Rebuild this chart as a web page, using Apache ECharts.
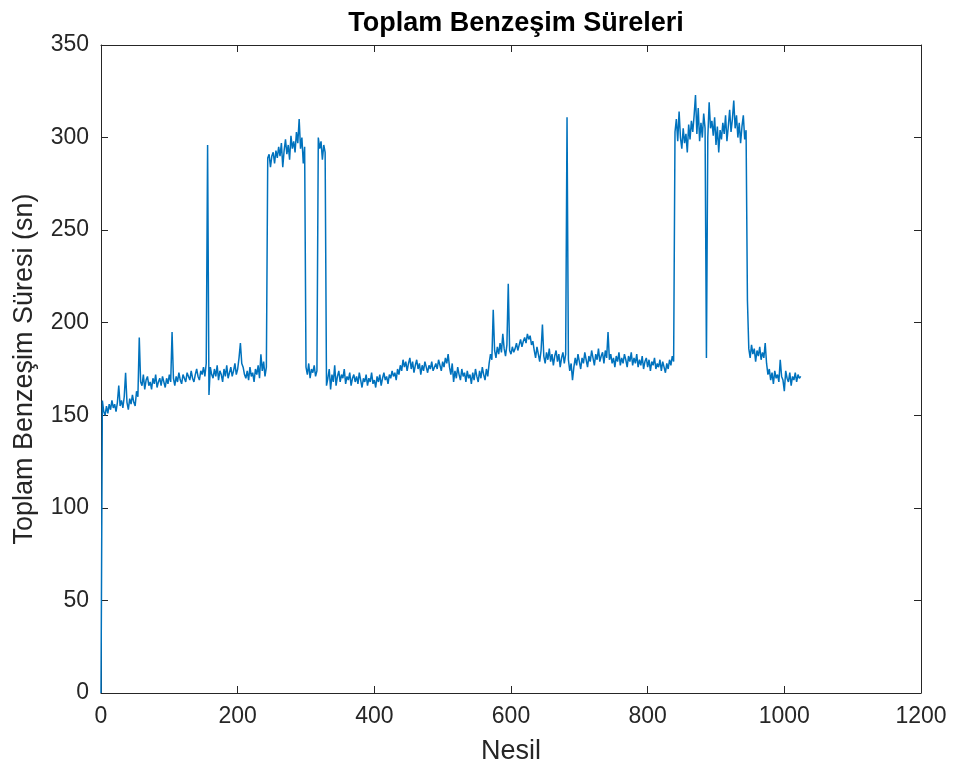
<!DOCTYPE html>
<html>
<head>
<meta charset="utf-8">
<script src="https://cdn.jsdelivr.net/npm/echarts@6/dist/echarts.min.js"></script>
<style>html,body{margin:0;padding:0;background:#fff;}#c{width:957px;height:775px;}</style>
</head>
<body>
<div id="c"></div>
<script>
// Title and axis texts
const chartTitle = 'Toplam Benzeşim Süreleri';
const xName = 'Nesil';
const yName = 'Toplam Benzeşim Süresi (sn)';
// x ticks 0..1200 step 200, y ticks 0..350 step 50
const xTicks = [0, 200, 400, 600, 800, 1000, 1200];
const yTicks = [0, 50, 100, 150, 200, 250, 300, 350];
// generation step between consecutive readings
const nesilAdim = 2;
// total simulation time per generation, rows of 10 = 20 generations
const sure = [
  0,158,152,150,155,151,156,153,158,154,
  156,152,157,166,155,158,154,160,173,157,
  153,159,156,161,157,155,163,160,192,168,
  166,172,164,169,171,166,168,164,170,167,
  172,165,168,170,166,171,168,165,170,167,
  172,168,195,170,166,171,168,173,169,167,
  172,170,168,173,171,169,174,170,168,172,
  175,171,169,174,172,176,171,178,296,161,
  176,172,170,175,171,177,169,174,172,168,
  175,171,177,170,173,176,171,174,178,172,
  175,181,189,178,176,172,170,174,169,176,
  171,173,168,175,172,177,170,183,174,179,
  171,176,289,291,284,290,292,286,293,289,
  295,290,297,284,293,299,291,296,288,301,
  294,298,292,303,297,310,294,300,286,295,
  176,172,178,170,175,173,177,171,174,300,
  294,298,288,296,292,166,170,175,164,172,
  168,177,166,171,174,168,172,170,175,167,
  171,169,173,166,170,172,168,171,167,173,
  169,165,170,168,172,166,170,168,173,167,
  169,165,171,168,172,166,170,173,169,171,
  167,172,170,174,171,173,169,175,172,177,
  174,180,176,179,174,178,181,175,179,173,
  177,180,175,178,172,177,174,179,176,173,
  177,175,179,174,176,178,175,180,177,174,
  179,176,181,178,183,176,172,178,168,174,
  170,176,172,169,175,171,173,168,174,170,
  172,167,173,169,175,171,168,174,170,176,
  172,169,175,171,178,183,180,207,185,181,
  187,183,189,184,194,186,182,188,221,185,
  183,187,184,186,189,185,188,191,187,190,
  192,189,194,191,193,188,190,185,181,187,
  183,179,185,199,182,178,184,180,186,179,
  183,177,182,185,179,183,176,181,184,178,
  183,311,180,174,178,169,176,181,177,183,
  179,175,181,178,184,180,176,182,179,185,
  181,177,183,180,186,179,182,184,178,185,
  181,195,180,183,178,181,176,182,179,184,
  177,181,178,183,180,176,182,179,184,177,
  181,178,183,176,180,177,182,175,179,181,
  176,180,174,179,177,181,175,178,176,180,
  174,179,176,173,178,175,180,177,182,179,
  303,310,298,314,300,294,305,297,302,292,
  307,299,309,303,312,323,302,316,298,308,
  300,313,305,181,300,319,305,309,301,311,
  296,306,292,304,299,308,302,312,298,306,
  315,303,310,320,305,312,300,308,297,306,
  312,299,304,212,186,181,188,183,186,179,
  185,182,187,180,184,181,189,178,172,175,
  169,173,167,174,170,172,168,180,171,169,
  163,174,170,168,173,166,171,169,173,168,
  172,170,171
];

const seriesData = sure.map((v, i) => [i * nesilAdim, v]);
const axisColor = '#262626';
const fontFam = '"Liberation Sans", Arial, Helvetica, sans-serif';

const baseAxis = {
  axisLine: { show: true, onZero: false, lineStyle: { color: axisColor, width: 1 } },
  axisTick: { show: true, inside: true, length: 7, lineStyle: { color: axisColor, width: 1 } },
  splitLine: { show: false },
};

const chart = echarts.init(document.getElementById('c'), null, { renderer: 'canvas' });
chart.setOption({
  animation: false,
  backgroundColor: '#ffffff',
  title: {
    text: chartTitle,
    left: 511, top: 5, textAlign: 'center',
    textStyle: { fontFamily: fontFam, fontWeight: 'bold', fontSize: 27, color: '#000' }
  },
  grid: { left: 101, right: 36, top: 45, bottom: 82, containLabel: false },
  xAxis: [
    Object.assign({}, baseAxis, {
      type: 'value', position: 'bottom', min: xTicks[0], max: xTicks[xTicks.length - 1], interval: 200,
      name: xName, nameLocation: 'middle', nameGap: 45,
      nameTextStyle: { fontFamily: fontFam, fontSize: 27, color: axisColor },
      axisLabel: { fontFamily: fontFam, fontSize: 23, color: axisColor, margin: 12, formatter: v => String(v) }
    }),
    Object.assign({}, baseAxis, {
      type: 'value', position: 'top', min: xTicks[0], max: xTicks[xTicks.length - 1], interval: 200,
      axisLabel: { show: false }
    })
  ],
  yAxis: [
    Object.assign({}, baseAxis, {
      type: 'value', position: 'left', min: yTicks[0], max: yTicks[yTicks.length - 1], interval: 50,
      name: yName, nameLocation: 'middle', nameGap: 63, nameRotate: 90,
      nameTextStyle: { fontFamily: fontFam, fontSize: 27, color: axisColor },
      axisLabel: { fontFamily: fontFam, fontSize: 23, color: axisColor, margin: 12, formatter: v => String(v) }
    }),
    Object.assign({}, baseAxis, {
      type: 'value', position: 'right', min: yTicks[0], max: yTicks[yTicks.length - 1], interval: 50,
      axisLabel: { show: false }
    })
  ],
  series: [{
    type: 'line',
    data: seriesData,
    xAxisIndex: 0, yAxisIndex: 0,
    showSymbol: false,
    symbol: 'none',
    sampling: null,
    lineStyle: { color: '#0072BD', width: 1.5 },
    z: 3
  }]
});
</script>
</body>
</html>
